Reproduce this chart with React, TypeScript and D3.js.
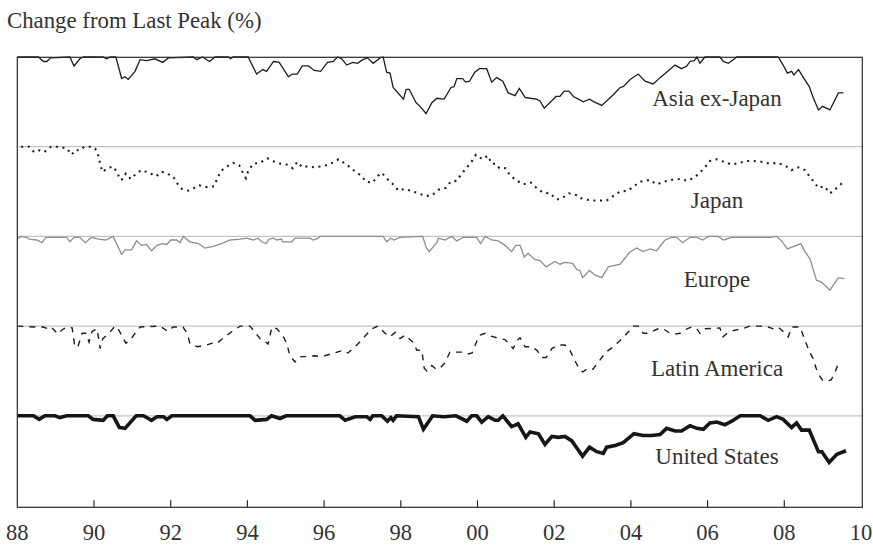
import React from 'react';
import * as d3 from 'd3';

// ---------- data ----------
const tickYears = d3.range(1988, 2011, 2);
const tickLabels = tickYears.map(y => String(y % 100).padStart(2, '0'));
const innerTicks = tickYears.filter(y => y > 1988 && y < 2010);

const seriesNames = ['Asia ex-Japan', 'Japan', 'Europe', 'Latin America', 'United States'];

// [year, change from last peak %]
const asia: [number, number][] = [
  [1988.00,0],[1988.55,0],[1988.68,-5],[1988.77,-5],[1988.87,-1],[1989.37,0],[1989.48,-10],[1989.63,-2],[1989.72,0],
  [1990.24,0],[1990.33,-2],[1990.42,0],[1990.57,0],[1990.72,-24],[1990.81,-22],[1990.89,-25],[1991.07,-16],[1991.20,-3],
  [1991.37,-4],[1991.59,-2],[1991.79,-6],[1991.94,-1],[1992.59,0],[1992.68,-3],[1992.83,0],[1993.01,-5],[1993.16,0],
  [1993.50,0],[1993.56,-2],[1993.63,0],[1994.02,0],[1994.24,-19],[1994.40,-14],[1994.50,-16],[1994.68,-5],[1994.83,-6],
  [1995.07,-22],[1995.17,-19],[1995.30,-19],[1995.43,-10],[1995.59,-10],[1995.74,-15],[1995.91,-16],[1996.09,-6],
  [1996.24,-5],[1996.35,0],[1996.46,-2],[1996.59,-9],[1996.75,-6],[1996.87,-7],[1997.01,-3],[1997.13,-1],[1997.28,-7],
  [1997.46,-1],[1997.54,0],[1997.63,-17],[1997.72,-18],[1997.80,-34],[1998.07,-47],[1998.14,-36],[1998.22,-36],
  [1998.40,-51],[1998.50,-55],[1998.66,-63],[1998.81,-51],[1998.94,-46],[1999.13,-47],[1999.31,-34],[1999.39,-33],
  [1999.46,-24],[1999.61,-24],[1999.69,-28],[1999.79,-27],[1999.93,-17],[2000.05,-13],[2000.24,-13],[2000.37,-28],
  [2000.50,-23],[2000.66,-27],[2000.80,-40],[2000.98,-43],[2001.09,-35],[2001.24,-45],[2001.37,-46],[2001.54,-47],
  [2001.63,-49],[2001.74,-57],[2002.05,-44],[2002.15,-44],[2002.26,-38],[2002.38,-38],[2002.50,-44],[2002.63,-47],
  [2002.76,-50],[2002.92,-47],[2003.04,-50],[2003.24,-54],[2003.54,-42],[2003.72,-34],[2003.80,-33],[2003.98,-25],
  [2004.19,-19],[2004.37,-27],[2004.58,-30],[2004.76,-23],[2004.93,-17],[2005.15,-9],[2005.32,-13],[2005.46,-10],
  [2005.54,-5],[2005.65,-4],[2005.72,0],[2005.80,-7],[2005.93,0],[2006.32,0],[2006.41,-5],[2006.54,-7],[2006.67,-3],
  [2006.76,0],[2007.84,0],[2007.97,-9],[2008.08,-18],[2008.19,-16],[2008.25,-20],[2008.37,-14],[2008.50,-23],
  [2008.65,-33],[2008.76,-46],[2008.89,-59],[2009.00,-55],[2009.19,-59],[2009.41,-40],[2009.54,-40],
];

const japan: [number, number][] = [
  [1988.10,0],[1988.31,0],[1988.44,-6],[1988.57,-4],[1988.70,-6],[1988.88,0],[1989.10,0],[1989.29,-2],[1989.42,-9],
  [1989.50,-4],[1989.62,-4],[1989.75,0],[1989.90,0],[1990.03,-2],[1990.11,-10],[1990.16,-19],[1990.22,-28],[1990.35,-24],
  [1990.49,-22],[1990.61,-29],[1990.68,-37],[1990.76,-36],[1990.83,-30],[1990.96,-36],[1991.10,-30],[1991.24,-26],
  [1991.43,-29],[1991.62,-33],[1991.77,-28],[1991.90,-30],[1992.06,-33],[1992.17,-41],[1992.29,-47],[1992.46,-49],
  [1992.61,-46],[1992.74,-43],[1992.94,-45],[1993.13,-44],[1993.22,-35],[1993.31,-27],[1993.47,-22],[1993.63,-18],
  [1993.79,-21],[1993.88,-29],[1993.96,-35],[1994.02,-27],[1994.15,-19],[1994.33,-18],[1994.52,-13],[1994.72,-17],
  [1994.87,-19],[1995.04,-20],[1995.18,-24],[1995.30,-17],[1995.43,-23],[1995.56,-22],[1995.74,-23],[1995.92,-22],
  [1996.11,-20],[1996.26,-17],[1996.38,-14],[1996.55,-19],[1996.68,-23],[1996.82,-28],[1996.96,-32],[1997.09,-39],
  [1997.27,-40],[1997.39,-33],[1997.50,-29],[1997.65,-36],[1997.80,-42],[1997.94,-49],[1998.09,-47],[1998.26,-49],
  [1998.46,-52],[1998.65,-55],[1998.82,-54],[1998.98,-48],[1999.17,-46],[1999.30,-39],[1999.46,-38],[1999.57,-31],
  [1999.71,-24],[1999.84,-17],[1999.96,-9],[2000.13,-14],[2000.27,-10],[2000.37,-19],[2000.48,-19],[2000.57,-24],
  [2000.73,-24],[2000.85,-32],[2001.00,-37],[2001.19,-42],[2001.39,-40],[2001.54,-46],[2001.70,-51],[2001.89,-52],
  [2002.07,-59],[2002.22,-57],[2002.39,-52],[2002.59,-54],[2002.67,-57],[2002.83,-59],[2003.00,-60],[2003.19,-60],
  [2003.37,-60],[2003.54,-55],[2003.72,-50],[2003.93,-49],[2004.08,-44],[2004.24,-39],[2004.50,-37],[2004.67,-42],
  [2004.86,-39],[2005.06,-37],[2005.28,-36],[2005.47,-38],[2005.67,-34],[2005.82,-28],[2005.93,-23],[2006.06,-16],
  [2006.24,-14],[2006.43,-17],[2006.63,-20],[2006.83,-18],[2007.02,-16],[2007.21,-16],[2007.44,-17],[2007.63,-19],
  [2007.82,-18],[2008.02,-21],[2008.19,-26],[2008.37,-23],[2008.54,-26],[2008.67,-34],[2008.77,-39],[2008.89,-46],
  [2009.04,-44],[2009.19,-52],[2009.34,-47],[2009.52,-40],
];

const europe: [number, number][] = [
  [1988.00,-3],[1988.09,0],[1988.25,-1],[1988.31,-3],[1988.51,-4],[1988.64,-7],[1988.75,-1],[1989.29,-1],[1989.37,-6],
  [1989.48,-1],[1989.63,-1],[1989.77,-7],[1989.94,-1],[1990.11,-3],[1990.31,-4],[1990.50,0],[1990.72,-20],[1990.81,-15],
  [1990.98,-15],[1991.11,-5],[1991.24,-10],[1991.37,-9],[1991.50,-16],[1991.64,-10],[1991.79,-8],[1991.90,-9],
  [1992.00,-4],[1992.16,-4],[1992.24,-7],[1992.33,0],[1992.50,-6],[1992.72,-8],[1992.89,-13],[1993.11,-11],[1993.33,-8],
  [1993.55,-4],[1993.81,-3],[1993.98,-2],[1994.15,-4],[1994.28,-2],[1994.37,-6],[1994.49,-8],[1994.57,-3],[1994.68,-2],
  [1994.76,-4],[1994.89,-3],[1994.92,-6],[1995.16,-6],[1995.24,-2],[1995.63,-2],[1995.72,-4],[1995.85,-2],[1995.89,0],
  [1997.54,0],[1997.63,-6],[1997.74,-2],[1997.82,-4],[1997.98,-1],[1998.57,0],[1998.66,-12],[1998.74,-17],[1998.94,-7],
  [1998.98,-2],[1999.15,-4],[1999.33,0],[1999.46,-5],[1999.63,-1],[1999.98,-1],[2000.08,-8],[2000.20,0],[2000.37,-4],
  [2000.54,-5],[2000.72,-10],[2000.89,-17],[2001.00,-10],[2001.11,-10],[2001.22,-23],[2001.32,-19],[2001.50,-26],
  [2001.63,-27],[2001.79,-34],[2002.02,-28],[2002.15,-31],[2002.28,-29],[2002.48,-30],[2002.59,-37],[2002.67,-38],
  [2002.74,-46],[2002.92,-38],[2003.06,-43],[2003.24,-46],[2003.41,-34],[2003.72,-31],[2003.96,-18],[2004.15,-13],
  [2004.32,-17],[2004.50,-14],[2004.67,-16],[2004.89,-4],[2005.06,-1],[2005.19,-1],[2005.35,-7],[2005.54,-1],
  [2005.72,-1],[2005.87,-4],[2006.02,0],[2006.28,0],[2006.41,-4],[2006.63,-1],[2007.63,-1],[2007.80,0],[2007.93,-5],
  [2008.08,-14],[2008.43,-8],[2008.54,-17],[2008.67,-25],[2008.84,-49],[2008.97,-51],[2009.19,-60],[2009.41,-46],
  [2009.56,-47],
];

const latam: [number, number][] = [
  [1988.00,0],[1988.46,-1],[1988.67,-1],[1988.80,-3],[1988.88,-1],[1989.06,-9],[1989.17,-4],[1989.30,-1],[1989.43,-2],
  [1989.50,-23],[1989.58,-23],[1989.69,-8],[1989.79,-8],[1989.87,-18],[1989.95,-6],[1990.08,-3],[1990.16,-25],
  [1990.23,-14],[1990.37,-9],[1990.55,0],[1990.63,-3],[1990.83,-19],[1990.94,-16],[1991.07,-8],[1991.20,-1],
  [1991.72,0],[1991.93,-6],[1992.06,-1],[1992.32,-1],[1992.43,-8],[1992.50,-19],[1992.69,-23],[1992.95,-21],
  [1993.08,-19],[1993.18,-20],[1993.44,-11],[1993.60,-6],[1993.81,0],[1994.07,0],[1994.20,-7],[1994.33,-14],
  [1994.43,-16],[1994.54,-20],[1994.64,-1],[1994.77,-3],[1994.93,-11],[1995.03,-20],[1995.11,-33],[1995.24,-40],
  [1995.37,-34],[1995.50,-34],[1995.76,-33],[1995.89,-34],[1996.02,-33],[1996.34,-29],[1996.49,-27],[1996.62,-30],
  [1996.73,-26],[1996.88,-20],[1997.07,-11],[1997.25,-3],[1997.41,0],[1997.59,-8],[1997.72,-12],[1997.85,-7],
  [1997.98,-14],[1998.11,-10],[1998.32,-18],[1998.42,-27],[1998.55,-27],[1998.61,-47],[1998.68,-50],[1998.81,-44],
  [1998.92,-48],[1999.02,-47],[1999.15,-41],[1999.28,-29],[1999.62,-29],[1999.75,-31],[1999.86,-30],[1999.99,-16],
  [2000.07,-10],[2000.20,-8],[2000.33,-11],[2000.59,-14],[2000.72,-15],[2000.93,-25],[2001.03,-16],[2001.11,-13],
  [2001.24,-23],[2001.42,-23],[2001.55,-27],[2001.68,-35],[2001.79,-35],[2001.94,-25],[2002.10,-21],[2002.28,-21],
  [2002.41,-27],[2002.57,-41],[2002.67,-49],[2002.75,-51],[2002.88,-47],[2003.01,-48],[2003.19,-38],[2003.35,-29],
  [2003.51,-24],[2003.72,-16],[2003.90,-8],[2004.06,0],[2004.19,0],[2004.32,-8],[2004.45,-8],[2004.71,-3],
  [2004.84,-3],[2005.02,-8],[2005.15,-9],[2005.28,-8],[2005.46,-3],[2005.59,-1],[2005.72,-3],[2005.80,-8],
  [2005.93,-3],[2006.32,-2],[2006.40,-12],[2006.51,-8],[2006.66,-5],[2006.90,-3],[2007.11,0],[2007.37,0],
  [2007.58,-1],[2007.71,-3],[2007.84,-1],[2008.02,-8],[2008.10,-12],[2008.20,-1],[2008.41,-1],[2008.54,-16],
  [2008.67,-30],[2008.75,-36],[2008.83,-47],[2008.91,-55],[2009.01,-61],[2009.14,-61],[2009.22,-60],[2009.30,-54],
  [2009.38,-45],[2009.51,-40],
];

const us: [number, number][] = [
  [1988.00,0],[1988.42,0],[1988.57,-4],[1988.72,0],[1988.98,0],[1989.11,-2],[1989.29,0],[1989.85,0],[1989.98,-4],
  [1990.24,-5],[1990.35,0],[1990.50,0],[1990.66,-13],[1990.81,-14],[1991.10,0],[1991.29,0],[1991.50,-5],[1991.64,-1],
  [1991.81,-1],[1991.90,-4],[1992.03,0],[1994.07,0],[1994.20,-5],[1994.50,-4],[1994.63,0],[1994.85,-3],[1995.01,0],
  [1996.41,0],[1996.55,-5],[1996.81,-1],[1997.11,-1],[1997.20,-4],[1997.27,0],[1997.50,0],[1997.65,-6],[1997.74,-2],
  [1997.80,-5],[1997.89,0],[1998.46,-1],[1998.59,-15],[1998.83,0],[1999.11,-1],[1999.44,0],[1999.72,-6],[1999.85,0],
  [1999.98,0],[2000.11,-7],[2000.28,-1],[2000.46,-5],[2000.54,-5],[2000.66,0],[2000.89,-12],[2001.06,-9],[2001.26,-24],
  [2001.37,-18],[2001.59,-20],[2001.76,-32],[2001.94,-23],[2002.11,-24],[2002.28,-23],[2002.46,-28],[2002.59,-36],
  [2002.74,-45],[2002.92,-35],[2003.11,-40],[2003.28,-42],[2003.37,-35],[2003.59,-33],[2003.80,-30],[2004.08,-20],
  [2004.32,-22],[2004.54,-22],[2004.76,-21],[2004.93,-14],[2005.15,-17],[2005.32,-17],[2005.54,-11],[2005.72,-14],
  [2005.89,-15],[2006.06,-8],[2006.24,-7],[2006.45,-10],[2006.63,-6],[2006.85,0],[2007.37,0],[2007.58,-5],[2007.80,-1],
  [2007.97,-4],[2008.19,-13],[2008.32,-8],[2008.45,-16],[2008.65,-16],[2008.89,-40],[2008.98,-40],[2009.17,-52],
  [2009.37,-43],[2009.61,-39],
];

const seriesData = [asia, japan, europe, latam, us];

// ---------- styles ----------
const W = 873, H = 545;
const frame = { left: 17.3, right: 862.3, top: 57.3, bottom: 507.3 };
const FONT = '"Liberation Serif", "Times New Roman", serif';
const TEXT = '#333';

const lineStyles = [
  { stroke: '#1e1e1e', width: 1.3, dash: undefined as string | undefined, cap: 'butt' },
  { stroke: '#1e1e1e', width: 2.1, dash: '2 4.6', cap: 'butt' },
  { stroke: '#8e8e8e', width: 1.3, dash: undefined, cap: 'butt' },
  { stroke: '#1e1e1e', width: 1.4, dash: '6 6', cap: 'butt' },
  { stroke: '#161616', width: 3.6, dash: undefined, cap: 'butt' },
];
const labelDy = [49.4, 61.5, 50.3, 50, 48];

export default function App() {
  const x = d3.scaleLinear().domain([1988, 2010]).range([17.3, 861]);
  const band = d3.scaleBand<string>().domain(seriesNames).range([57, 505.5]).paddingInner(0).paddingOuter(0);
  const bh = band.bandwidth();

  return (
    <svg width={W} height={H} style={{ position: 'absolute', left: 0, top: 0, background: '#fff' }}>
      <rect x={0} y={0} width={W} height={H} fill="#fff" />
      <text x={7} y={28} fontFamily={FONT} fontSize={22.8} fill={TEXT}>Change from Last Peak (%)</text>

      {/* band separators */}
      {seriesNames.slice(1).map(n => (
        <line key={n} x1={frame.left} x2={frame.right} y1={band(n)!} y2={band(n)!} stroke="#c4c4c4" strokeWidth={1.2} />
      ))}

      {/* series */}
      {seriesNames.map((n, i) => {
        const top = band(n)!;
        const y = d3.scaleLinear().domain([0, -100]).range([top, top + bh]);
        const gen = d3.line<[number, number]>().x(d => x(d[0])).y(d => y(d[1]));
        const st = lineStyles[i];
        return (
          <g key={n}>
            <path d={gen(seriesData[i]) || ''} fill="none" stroke={st.stroke} strokeWidth={st.width}
              strokeDasharray={st.dash} strokeLinejoin="miter" strokeLinecap={st.cap as any} />
            <text x={717} y={top + labelDy[i]} textAnchor="middle" fontFamily={FONT} fontSize={23} fill={TEXT}>{n}</text>
          </g>
        );
      })}

      {/* frame */}
      <rect x={frame.left} y={frame.top} width={frame.right - frame.left} height={frame.bottom - frame.top}
        fill="none" stroke="#2a2a2a" strokeWidth={1.2} />

      {/* ticks */}
      {innerTicks.map(t => (
        <line key={t} x1={x(t)} x2={x(t)} y1={frame.bottom} y2={frame.bottom - 7} stroke="#2a2a2a" strokeWidth={1.2} />
      ))}
      {tickYears.map((t, i) => (
        <text key={t} x={Math.min(Math.max(x(t), 12), 861)} y={540} textAnchor="middle" fontFamily={FONT} fontSize={22.5} fill={TEXT}>{tickLabels[i]}</text>
      ))}
    </svg>
  );
}
